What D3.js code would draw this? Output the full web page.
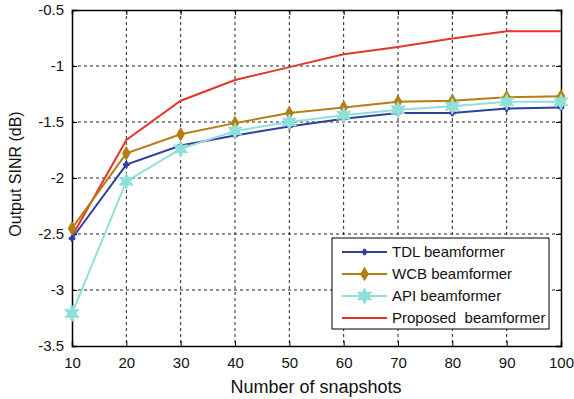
<!DOCTYPE html>
<html lang="en">
<head>
  <meta charset="UTF-8">
  <script src="https://d3js.org/d3.v7.min.js"></script>
  <style>
    body { margin: 0; background: #fff; }
    text { font-family: Arial, "Liberation Sans", sans-serif; }
  </style>
</head>
<body>
  <div id="chart"></div>
  <script>
    // Data
    const snapshots = [10, 20, 30, 40, 50, 60, 70, 80, 90, 100];
    const tdl = [-2.54, -1.88, -1.71, -1.62, -1.54, -1.47, -1.42, -1.42, -1.38, -1.37];
    const wcb = [-2.45, -1.78, -1.61, -1.51, -1.42, -1.37, -1.32, -1.31, -1.28, -1.27];
    const api = [-3.21, -2.03, -1.74, -1.58, -1.50, -1.44, -1.39, -1.36, -1.32, -1.32];
    const proposed = [-2.52, -1.66, -1.31, -1.125, -1.01, -0.895, -0.83, -0.755, -0.69, -0.69];
    const yTicks = [-3.5, -3, -2.5, -2, -1.5, -1, -0.5];

    const series = [
      { name: "TDL beamformer", values: tdl, color: "#2e3f9e", marker: "cross" },
      { name: "WCB beamformer", values: wcb, color: "#b47f12", marker: "diamond" },
      { name: "API beamformer", values: api, color: "#8fe0d9", marker: "hexagram" },
      { name: "Proposed  beamformer", values: proposed, color: "#e5352b", marker: null }
    ];

    const width = 574, height = 399;
    const margin = { top: 10, right: 13, bottom: 53, left: 72 };
    const iw = width - margin.left - margin.right;
    const ih = height - margin.top - margin.bottom;

    const svg = d3.select("#chart").append("svg")
      .attr("width", width)
      .attr("height", height);

    const g = svg.append("g").attr("transform", `translate(${margin.left},${margin.top})`);

    const x = d3.scaleLinear().domain([10, 100]).range([0, iw]);
    const y = d3.scaleLinear().domain([-3.5, -0.5]).range([ih, 0]);

    // dashed grid
    g.append("g").selectAll("line")
      .data(snapshots.slice(1, -1))
      .join("line")
      .attr("x1", d => x(d)).attr("x2", d => x(d))
      .attr("y1", 0).attr("y2", ih)
      .attr("stroke", "#222").attr("stroke-width", 1).attr("stroke-dasharray", "3,3");
    g.append("g").selectAll("line")
      .data(yTicks.slice(1, -1))
      .join("line")
      .attr("y1", d => y(d)).attr("y2", d => y(d))
      .attr("x1", 0).attr("x2", iw)
      .attr("stroke", "#222").attr("stroke-width", 1).attr("stroke-dasharray", "3,3");

    // axes with inward ticks
    const xAxis = g.append("g").attr("transform", `translate(0,${ih})`)
      .call(d3.axisBottom(x).tickValues(snapshots).tickSize(-5).tickPadding(11).tickFormat(d3.format("d")));
    const yAxis = g.append("g")
      .call(d3.axisLeft(y).tickValues(yTicks).tickSize(-5).tickPadding(8).tickFormat(d => d));
    g.append("g").call(d3.axisTop(x).tickValues(snapshots).tickSize(-5).tickFormat(""));
    g.append("g").attr("transform", `translate(${iw},0)`)
      .call(d3.axisRight(y).tickValues(yTicks).tickSize(-5).tickFormat(""));

    g.selectAll(".domain").attr("stroke", "#000").attr("stroke-width", 1.5);
    g.selectAll(".tick line").attr("stroke", "#000");
    [xAxis, yAxis].forEach(a => a.selectAll("text")
      .attr("font-size", 15).attr("fill", "#111")
      .style("font-family", "Arial, 'Liberation Sans', sans-serif"));

    // marker shapes
    function hexagram(r) {
      const pts = [];
      for (let i = 0; i < 12; i++) {
        const a = -Math.PI / 2 + i * Math.PI / 6;
        const rr = i % 2 === 0 ? r : r * 0.5;
        pts.push([rr * Math.cos(a), rr * Math.sin(a)]);
      }
      return "M" + pts.map(p => p.join(",")).join("L") + "Z";
    }
    function markerPath(type) {
      if (type === "cross") return d3.symbol(d3.symbolCross, 18)();
      if (type === "diamond") return d3.symbol(d3.symbolDiamond, 50)();
      if (type === "hexagram") return hexagram(8);
      return null;
    }

    const line = d3.line()
      .x((d, i) => x(snapshots[i]))
      .y(d => y(d));

    const drawOrder = [series[3], series[1], series[0], series[2]];
    drawOrder.forEach(s => {
      g.append("path")
        .datum(s.values)
        .attr("fill", "none")
        .attr("stroke", s.color)
        .attr("stroke-width", 2)
        .attr("d", line);
      if (s.marker) {
        g.append("g").selectAll("path")
          .data(s.values)
          .join("path")
          .attr("transform", (d, i) => `translate(${x(snapshots[i])},${y(d)})`)
          .attr("d", markerPath(s.marker))
          .attr("fill", s.color)
          .attr("stroke", s.color)
          .attr("stroke-width", 1);
      }
    });

    // legend
    const lg = svg.append("g").attr("transform", "translate(332,238)");
    lg.append("rect")
      .attr("width", 217).attr("height", 91)
      .attr("fill", "#fff").attr("stroke", "#000").attr("stroke-width", 1);
    series.forEach((s, i) => {
      const row = lg.append("g").attr("transform", `translate(0,${14 + i * 22})`);
      row.append("line")
        .attr("x1", 10).attr("x2", 55)
        .attr("stroke", s.color).attr("stroke-width", 2);
      if (s.marker) {
        row.append("path")
          .attr("transform", "translate(32.5,0)")
          .attr("d", markerPath(s.marker))
          .attr("fill", s.color).attr("stroke", s.color);
      }
      row.append("text")
        .attr("x", 60).attr("y", 5)
        .attr("font-size", 15).attr("fill", "#111")
        .style("white-space", "pre")
        .text(s.name);
    });

    // axis titles
    svg.append("text")
      .attr("x", 316).attr("y", 393)
      .attr("text-anchor", "middle")
      .attr("font-size", 18).attr("fill", "#111")
      .text("Number of snapshots");
    svg.append("text")
      .attr("transform", `translate(21,174) rotate(-90)`)
      .attr("text-anchor", "middle")
      .attr("font-size", 16).attr("fill", "#111")
      .text("Output SINR (dB)");
  </script>
</body>
</html>
